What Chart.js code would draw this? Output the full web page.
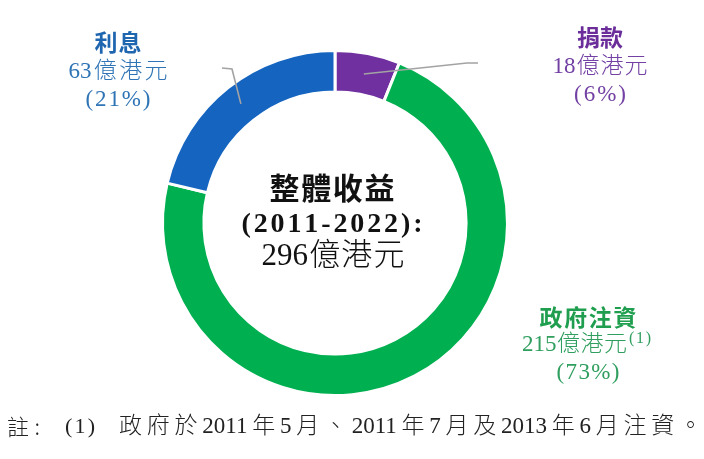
<!DOCTYPE html>
<html>
<head>
<meta charset="utf-8">
<script src="https://cdn.jsdelivr.net/npm/chart.js@4.4.1/dist/chart.umd.min.js"></script>
<style>
  html, body { margin: 0; padding: 0; background: #ffffff; }
  #chart { display: block; }
</style>
</head>
<body>
<canvas id="chart" width="704" height="459"></canvas>
<script>
// 整體收益 (2011-2022), 億港元
const categories = ['捐款', '政府注資', '利息'];
const amounts = [18, 215, 63];
const percents = [6, 73, 21];
const segColors = ['#7030a0', '#00b050', '#1565c0'];
const titleColors = ['#6a2d9a', '#1e9e4e', '#1f66b0'];
const textColors = ['#7340a3', '#2f9e5e', '#2f74b5'];
const periodLabel = '(2011-2022):';
const totalTitle = '整體收益';
const footnote = '政府於2011年5月、2011年7月及2013年6月注資。';

const SERIF = '"Liberation Serif", "Noto Sans CJK TC", serif';
const SANS = '"Noto Sans CJK TC", "Noto Sans", sans-serif';

// split into digit runs and single characters
function tokens(text, keepDigits) {
  if (!keepDigits) return [...text];
  return text.match(/[0-9]+|./gu);
}

// draw text stretched to a given width, extra space shared between tokens
function drawFit(ctx, text, x, y, width, font, color, align, keepDigits) {
  ctx.save();
  ctx.font = font;
  ctx.fillStyle = color;
  ctx.textBaseline = 'middle';
  ctx.textAlign = 'left';
  const parts = tokens(text, keepDigits);
  const widths = parts.map(p => ctx.measureText(p).width);
  const w0 = widths.reduce((a, b) => a + b, 0);
  const sp = parts.length > 1 ? (width - w0) / (parts.length - 1) : 0;
  let cur = align === 'left' ? x : x - width / 2;
  parts.forEach((p, i) => {
    ctx.fillText(p, cur, y);
    cur += widths[i] + sp;
  });
  ctx.restore();
}

// where each label block sits
const labelSpots = [
  { cx: 600, ys: [37, 67, 95], w: [46, 95, 52] },
  { cx: 588, ys: [317, 345, 373], w: [97, 105, 63] },
  { cx: 118, ys: [42, 72, 100], w: [47, 99, 65] }
];
const leaderPaths = [
  [[467, 63], [478, 63]],
  null,
  [[232, 69], [222, 68]]
];

const labelPlugin = {
  id: 'labels',
  afterDraw(chart) {
    const ctx = chart.ctx;
    const arcs = chart.getDatasetMeta(0).data;

    // leader lines from the middle of each ring segment
    ctx.save();
    ctx.strokeStyle = '#a3a3a3';
    ctx.lineWidth = 1.6;
    arcs.forEach((arc, i) => {
      const path = leaderPaths[i];
      if (!path) return;
      const p = arc.getCenterPoint();
      ctx.beginPath();
      ctx.moveTo(p.x, p.y);
      path.forEach(pt => ctx.lineTo(pt[0], pt[1]));
      ctx.stroke();
    });
    ctx.restore();

    // segment labels
    categories.forEach((cat, i) => {
      const s = labelSpots[i];
      drawFit(ctx, cat, s.cx, s.ys[0], s.w[0], 'bold 23px ' + SANS, titleColors[i]);
      const val = amounts[i] + '億港元';
      if (i === 1) {
        drawFit(ctx, val, s.cx - 66, s.ys[1], s.w[1], '300 23px ' + SERIF, textColors[i], 'left', true);
        drawFit(ctx, '(1)', s.cx + 41, s.ys[1] - 6, 22, '16px ' + SERIF, textColors[i], 'left');
      } else {
        drawFit(ctx, val, s.cx, s.ys[1], s.w[1], '300 23px ' + SERIF, textColors[i], 'center', true);
      }
      drawFit(ctx, '(' + percents[i] + '%)', s.cx, s.ys[2], s.w[2], '23px ' + SERIF, textColors[i]);
    });

    // centre text
    const total = amounts.reduce((a, b) => a + b, 0);
    drawFit(ctx, totalTitle, 332, 188, 125, 'bold 30px ' + SANS, '#111111');
    drawFit(ctx, periodLabel, 332, 225, 181, 'bold 28px ' + SERIF, '#111111');
    drawFit(ctx, total + '億港元', 333, 257, 143, '300 31px ' + SERIF, '#111111', 'center', true);

    // footnote
    drawFit(ctx, '註:', 7, 427, 33, '300 22px ' + SANS, '#222222', 'left');
    drawFit(ctx, '(1)', 65, 427, 30, '22px ' + SERIF, '#222222', 'left');
    drawFit(ctx, footnote, 119, 427, 583, '300 23px ' + SERIF, '#222222', 'left', true);
  }
};

new Chart(document.getElementById('chart'), {
  type: 'doughnut',
  data: {
    labels: categories,
    datasets: [{
      data: amounts,
      backgroundColor: segColors,
      borderColor: '#ffffff',
      borderWidth: 3,
      hoverOffset: 0
    }]
  },
  options: {
    responsive: false,
    animation: false,
    devicePixelRatio: 1,
    cutout: '76%',
    layout: { padding: { top: 49, bottom: 62, left: 161, right: 195 } },
    plugins: {
      legend: { display: false },
      tooltip: { enabled: false }
    }
  },
  plugins: [labelPlugin]
});
</script>
</body>
</html>
